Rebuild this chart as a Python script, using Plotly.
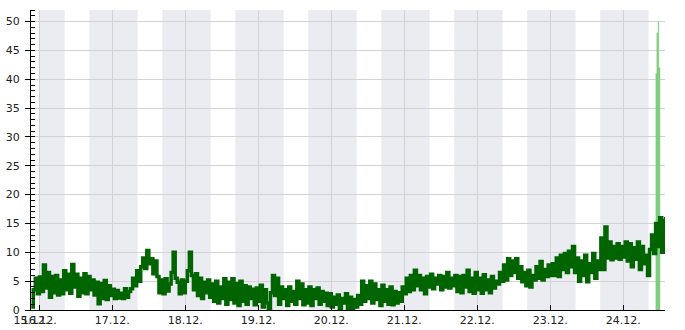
import pandas as pd
import plotly.graph_objects as go

# ---- data ----
series_start = "2023-12-15 21:20"
step_minutes = 40
values = [
    0.5, 3.5, 5.5, 2.8, 5.7, 3.2,
    7.8, 3.8, 6.5,
    2.2, 5.8, 3.0, 6.0, 2.6, 5.2,
    2.8, 6.8, 3.5, 6.2, 2.9, 7.9, 4.0,
    6.2, 2.4, 5.5, 3.0, 6.3, 2.8, 5.8, 3.5, 5.2, 2.6, 4.8,
    1.1, 4.6, 2.0, 5.1, 1.8, 4.2, 2.5, 3.6,
    2.0, 3.4, 2.1, 2.9, 2.0, 3.7, 2.2, 3.2,
    3.7, 5.5, 4.2, 6.8, 5.0,
    7.5, 9.0, 7.2, 10.3, 8.0,
    8.9, 6.3, 8.5, 5.8,
    3.0, 5.2, 2.8, 5.4, 3.3, 4.5,
    6.5, 10.0, 5.5,
    4.8, 2.8, 5.2, 3.0, 5.0,
    6.8, 10.0, 6.0,
    3.5, 6.3, 2.5, 5.5, 2.0, 4.8, 3.0, 5.2, 2.2,
    4.5, 1.5, 5.0, 1.2, 4.0, 2.0, 5.4, 1.0, 4.8, 1.8, 5.4, 1.2, 4.6, 0.8, 5.0, 1.5, 4.2,
    1.0, 4.0, 2.0, 3.6, 0.9, 3.8, 1.5,
    4.3, 0.5, 3.5, 1.2, 0.0, 3.0,
    6.0, 2.5, 5.5,
    1.0, 4.0, 2.0, 3.5, 0.8, 4.0, 1.5, 3.2, 1.0,
    5.0, 2.0, 4.5, 0.9, 3.5,
    1.2, 4.0, 0.8, 3.5, 2.0, 3.8, 1.0, 3.2, 1.5, 2.9, 0.8,
    2.8, 0.5, 2.2, 1.0, 2.6, 0.3, 2.0, 1.2, 2.8, 0.0, 2.2, 0.2, 1.8, 0.5, 2.5,
    1.0, 5.0, 1.5, 4.2, 2.0, 5.0, 1.2, 4.5, 1.8, 3.5,
    0.8, 4.3, 1.5, 3.5, 1.0, 4.0, 0.9, 3.2, 1.2, 3.0, 1.5,
    4.0, 2.8, 5.5, 3.2, 6.0, 3.5, 6.9, 4.2,
    6.0, 3.5, 5.5, 2.8, 5.8, 4.0, 6.2, 3.7, 5.5, 4.5, 6.0, 3.5, 5.8, 4.0, 6.5, 3.8, 5.5, 4.2, 6.0, 3.2, 5.8,
    3.0, 6.0, 4.0, 6.9, 3.2, 5.5, 2.9, 6.5, 3.5,
    5.5, 2.9, 6.1, 3.5, 5.2, 3.0, 5.8, 3.8, 5.0, 4.5,
    6.5, 5.0, 7.8, 5.2, 8.9, 6.0, 8.5, 6.5, 8.9, 5.5, 7.5, 4.9,
    6.5, 4.2, 6.9, 4.0, 6.0, 5.2,
    7.5, 5.5, 8.4, 5.2, 7.0, 5.8, 7.8, 6.0, 8.0,
    6.0, 9.0, 5.8, 9.5, 7.0, 9.8, 6.5, 10.2, 7.5, 11.0,
    6.5, 9.0, 5.0, 8.5, 6.0, 9.5, 4.9, 8.0, 6.5, 9.8, 5.5, 8.5, 7.0,
    12.5, 7.0, 14.4, 9.0,
    11.8, 8.7, 11.0, 9.0, 11.5, 8.8, 11.0, 9.2, 11.8,
    8.5, 11.5, 7.5, 10.8, 8.8, 11.8, 7.0, 11.0, 8.0, 9.5, 6.0,
    10.5, 13.0, 9.8, 15.0, 11.0, 16.0, 10.0, 15.5, 16.1,
]
gust_times = ["2023-12-24 10:40", "2023-12-24 10:45", "2023-12-24 11:05",
              "2023-12-24 11:30", "2023-12-24 11:42", "2023-12-24 12:05"]
gust_values = [0, 41, 48, 50, 42, 0]

night_starts = ["2023-12-16 00:00", "2023-12-16 16:26", "2023-12-17 16:26", "2023-12-18 16:26",
                "2023-12-19 16:26", "2023-12-20 16:26", "2023-12-21 16:26", "2023-12-22 16:26",
                "2023-12-23 16:26"]
night_ends = ["2023-12-16 08:21", "2023-12-17 08:21", "2023-12-18 08:21", "2023-12-19 08:21",
              "2023-12-20 08:21", "2023-12-21 08:21", "2023-12-22 08:21", "2023-12-23 08:21",
              "2023-12-24 08:21"]

x_min = "2023-12-15 21:15"
x_max = "2023-12-24 13:45"
tick_vals = [x_min, "2023-12-16", "2023-12-17", "2023-12-18", "2023-12-19", "2023-12-20",
             "2023-12-21", "2023-12-22", "2023-12-23", "2023-12-24"]
tick_text = ["15.12.", "16.12.", "17.12.", "18.12.", "19.12.", "20.12.",
             "21.12.", "22.12.", "23.12.", "24.12."]

times = pd.date_range(series_start, periods=len(values), freq=f"{step_minutes}min")

fig = go.Figure()
fig.add_trace(go.Scatter(
    x=pd.to_datetime(gust_times), y=gust_values, mode="lines",
    line=dict(color="#7fcd7f", width=0.5, shape="hv"),
    fill="tozeroy", fillcolor="#7fcd7f", hoverinfo="skip", showlegend=False))
fig.add_trace(go.Scatter(
    x=times, y=values, mode="lines",
    line=dict(color="#006400", width=3.5, shape="hv"), showlegend=False))

for s, e in zip(night_starts, night_ends):
    fig.add_shape(type="rect", xref="x", yref="paper", x0=s, x1=e, y0=0, y1=1,
                  fillcolor="#ebecf2", line=dict(width=0), layer="below")

font = dict(family="DejaVu Sans", size=11, color="#222")
fig.update_layout(
    width=685, height=330,
    margin=dict(l=31, r=20, t=10, b=20),
    paper_bgcolor="white", plot_bgcolor="white",
    showlegend=False,
    xaxis=dict(
        type="date", range=[x_min, x_max],
        tickvals=tick_vals, ticktext=tick_text, tickangle=0, automargin=False,
        showgrid=True, gridcolor="#d3d3d3", gridwidth=1,
        ticks="inside", ticklen=5, tickcolor="black", tickwidth=1,
        showline=True, linecolor="black", linewidth=1,
        tickfont=font, zeroline=False,
    ),
    yaxis=dict(
        range=[0, 52], tickvals=[0, 5, 10, 15, 20, 25, 30, 35, 40, 45, 50],
        automargin=False,
        showgrid=True, gridcolor="#d3d3d3", gridwidth=1,
        ticks="outside", ticklen=5, tickcolor="black", tickwidth=1,
        minor=dict(dtick=1, tick0=0, ticks="inside", ticklen=4, tickcolor="black", showgrid=False),
        showline=True, linecolor="black", linewidth=1,
        tickfont=font, zeroline=False, ticklabelstandoff=3,
    ),
)

fig.write_html("out.html")
